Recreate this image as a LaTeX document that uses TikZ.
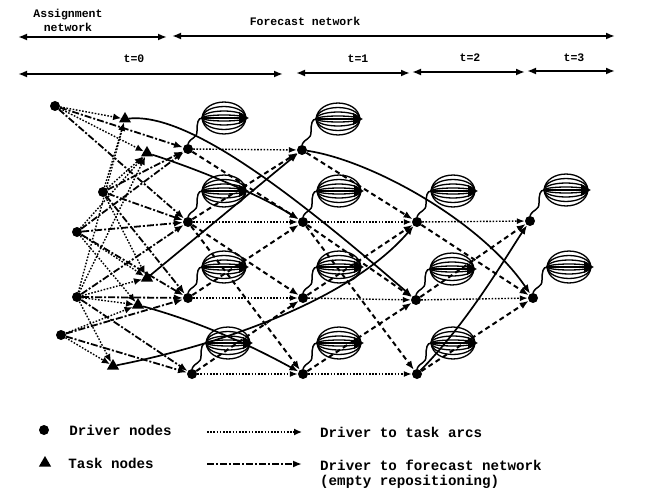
\documentclass[tikz,border=0pt]{standalone}
\usepackage{fontspec}
\setmonofont{Liberation Mono}
\usetikzlibrary{arrows.meta,positioning,calc,shapes.geometric}
\tikzset{
  drv/.style={circle, fill, inner sep=0pt, minimum size=10pt},
  tsk/.style={regular polygon, regular polygon sides=3, fill, inner sep=0pt, minimum size=14pt},
  asgarc/.style={-{Latex[length=8pt,width=7pt]}, dash pattern=on 1.6pt off 1.6pt, line width=1.4pt},
  emparc/.style={-{Latex[length=9pt,width=7pt]}, dash pattern=on 7pt off 2pt on 2pt off 2pt, line width=1.8pt},
  reparc/.style={-{Latex[length=9pt,width=7pt]}, dash pattern=on 5pt off 3.5pt, line width=2pt},
  holdarc/.style={-{Latex[length=8pt,width=6pt]}, dash pattern=on 1.6pt off 1.6pt, line width=1.4pt},
  loadarc/.style={-{Latex[length=9pt,width=7pt]}, line width=1.7pt},
  spanarrow/.style={{Latex[length=9pt,width=7pt]}-{Latex[length=9pt,width=7pt]}, line width=1.8pt},
  hdr/.style={font=\ttfamily\bfseries\fontsize{11.5}{14}\selectfont, align=center},
  legtxt/.style={font=\ttfamily\bfseries\fontsize{14.2}{16}\selectfont, anchor=west, align=left, inner sep=0pt},
  wire/.style={line width=1.5pt},
  ballline/.style={line width=1.3pt}
}
% forecast loop bundle above a forecast node
\newcommand\fcball[1]{%
  \draw[wire] (#1.north) .. controls +(3,-7) and +(0,8) .. ($(#1)+(9,-18)$)
    .. controls +(0,-8) and +(-4,0) .. ($(#1)+(14,-31)$);
  \foreach \bulge in {-16,-11.5,-7,-3,3,7,11.5,16}
    \draw[ballline] ($(#1)+(14,-31)$) .. controls +(2,\bulge*1.33) and +(-2,\bulge*1.33) .. ($(#1)+(58,-31)$);
  \draw[ballline,-{Latex[length=10pt,width=13pt]}] ($(#1)+(14,-31)$) -- ($(#1)+(61,-31)$);
}

\begin{document}
\begin{tikzpicture}[x=1pt, y=-1pt]
\path[use as bounding box, fill=white] (0,0) rectangle (648,492);

% header
\node[hdr] (asg) at (68,20) {Assignment\\network};
\node[hdr] (fcn) at (305,21) {Forecast network};
\coordinate (h0) at (18,37);  \coordinate (h1) at (167,37);
\coordinate (h2) at (172,36); \coordinate (h3) at (615,36);
\draw[spanarrow] (h0) -- (h1);
\draw[spanarrow] (h2) -- (h3);
\node[hdr] (t0) at (134,59) {t=0};
\node[hdr] (t1) at (358,59) {t=1};
\node[hdr] (t2) at (470,58) {t=2};
\node[hdr] (t3) at (574,58) {t=3};
\coordinate (k0) at (18,74);  \coordinate (k1) at (283,74);
\coordinate (k2) at (296,73); \coordinate (k3) at (410,73);
\coordinate (k4) at (412,72); \coordinate (k5) at (525,72);
\coordinate (k6) at (527,71); \coordinate (k7) at (615,71);
\draw[spanarrow] (k0) -- (k1);
\draw[spanarrow] (k2) -- (k3);
\draw[spanarrow] (k4) -- (k5);
\draw[spanarrow] (k6) -- (k7);

% assignment network
\node[drv] (D1) at (55,106) {};
\node[drv] (D2) at (103,192) {};
\node[drv] (D3) at (77,232) {};
\node[drv] (D4) at (77,297) {};
\node[drv] (D5) at (61,335) {};
\node[tsk] (T1) at (125,119) {};
\node[tsk] (T2) at (147,153) {};
\node[tsk] (T3) at (147,278) {};
\node[tsk] (T4) at (138,305) {};
\node[tsk] (T5) at (113,366) {};

% forecast network
\node[drv] (F00) at (188,149) {};
\node[drv] (F01) at (188,222) {};
\node[drv] (F02) at (188,298) {};
\node[drv] (F03) at (192,374) {};
\node[drv] (F10) at (302,150) {};
\node[drv] (F11) at (303,222) {};
\node[drv] (F12) at (303,298) {};
\node[drv] (F13) at (303,374) {};
\node[drv] (F21) at (417,222) {};
\node[drv] (F22) at (416,300) {};
\node[drv] (F23) at (417,374) {};
\node[drv] (F31) at (530,221) {};
\node[drv] (F32) at (533,298) {};

\foreach \n in {F00,F01,F02,F03,F10,F11,F12,F13,F21,F22,F23,F31,F32}
  \fcball{\n};

% driver to task
\foreach \u/\v in {D1/T1, D1/T2, D2/T1, D2/T2, D2/T3, D3/T2, D3/T3, D3/T4,
                   D4/T1, D4/T2, D4/T3, D4/T4, D4/T5, D5/T4, D5/T5}
  \draw[asgarc] (\u) -- (\v);
% driver to forecast network
\foreach \u/\v in {D1/F00, D1/F01, D2/F00, D2/F01, D2/F02, D3/F00, D3/F01, D3/F02,
                   D4/F01, D4/F02, D4/F03, D5/F02, D5/F03}
  \draw[emparc] (\u) -- (\v);
% repositioning between periods
\foreach \u/\v in {F00/F11, F01/F10, F01/F12, F01/F13, F02/F11, F03/F12, F10/F21,
                   F11/F22, F11/F23, F12/F21, F13/F22, F21/F32, F22/F31, F23/F32}
  \draw[reparc] (\u) -- (\v);
% holding
\foreach \u/\v in {F00/F10, F01/F11, F11/F21, F21/F31, F02/F12, F12/F22, F22/F32,
                   F03/F13, F13/F23}
  \draw[holdarc] (\u) -- (\v);
% loaded moves
\draw[loadarc] (T1) .. controls (190,112) and (300,200) .. (F22);
\draw[loadarc] (T2) .. controls (200,170) and (260,195) .. (F11);
\draw[loadarc] (T3) -- (F10);
\draw[loadarc] (T4) .. controls (200,322) and (250,345) .. (F13);
\draw[loadarc] (T5) .. controls (220,345) and (350,300) .. (F21);
\draw[loadarc] (F10) .. controls (370,160) and (480,220) .. (F32);
\draw[loadarc] (F23) .. controls (470,320) and (510,250) .. (F31);

% legend
\node[drv] (kd) at (44,430) {};
\node[legtxt, right=20pt of kd] (kdt) {Driver nodes};
\node[tsk] (kt) at (45,463) {};
\node[legtxt, right=19pt of kt] (ktt) {Task nodes};
\coordinate (la) at (207,432); \coordinate (lb) at (302,432);
\coordinate (lc) at (207,464); \coordinate (ld) at (302,464);
\draw[asgarc] (la) -- (lb);
\draw[emparc] (lc) -- (ld);
\node[legtxt] (lat) at (320,432) {Driver to task arcs};
\node[legtxt] (let) at (320,465) {Driver to forecast network};
\node[legtxt, below=4pt of let.south west, anchor=north west] (lrt) {(empty repositioning)};
\end{tikzpicture}
\end{document}
